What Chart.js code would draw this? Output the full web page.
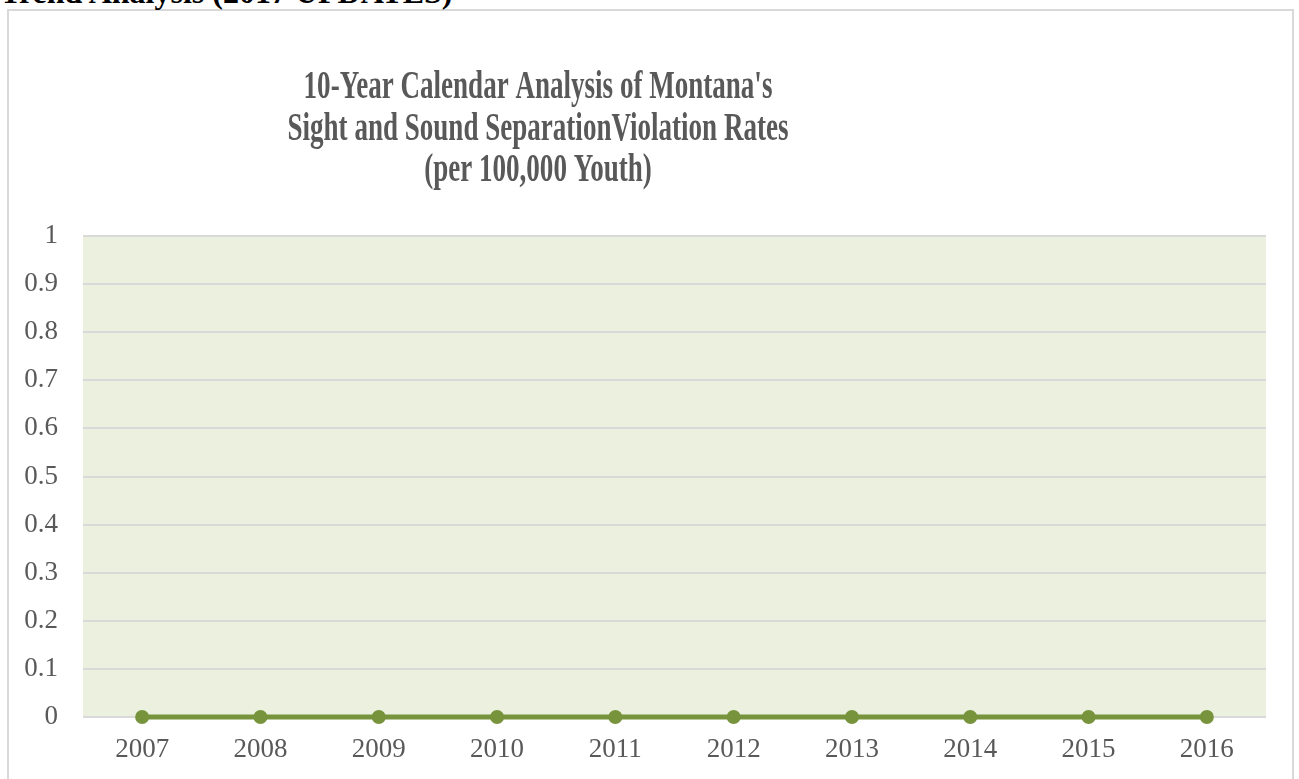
<!DOCTYPE html>
<html>
<head>
<meta charset="utf-8">
<script src="https://cdn.jsdelivr.net/npm/chart.js@4.4.1/dist/chart.umd.min.js"></script>
<style>
  body { margin: 0; background: #fff; overflow: hidden; }
  .heading {
    position: absolute; left: 0; top: -24px; z-index: 2;
    font: bold 32px 'Liberation Serif', 'Times New Roman', serif;
    line-height: 32px; color: #000; white-space: nowrap;
  }
  .frame {
    position: absolute; left: 7px; top: 9px;
    width: 1283px; height: 780px;
    border: 2px solid #d9d9d9; background: #fff;
  }
  .frame canvas { display: block; }
</style>
</head>
<body>
<div class="heading">Trend Analysis (2017 UPDATES)</div>
<div class="frame">
  <canvas id="trend-chart" width="1283" height="768"></canvas>
</div>
<script>
// chart data
var years = ['2007', '2008', '2009', '2010', '2011', '2012', '2013', '2014', '2015', '2016'];
var violationRates = [0, 0, 0, 0, 0, 0, 0, 0, 0, 0];
var yTickLabels = ['0', '0.1', '0.2', '0.3', '0.4', '0.5', '0.6', '0.7', '0.8', '0.9', '1'];
var titleLines = [
    "10-Year Calendar Analysis of Montana's",
    "Sight and Sound SeparationViolation Rates",
    "(per 100,000 Youth)"
];

var olive = '#77933c';
var gris = '#595959';
var serif = "'Liberation Serif', 'Times New Roman', serif";

// fondo del area de graficado
var plotBackground = {
    id: 'plotBackground',
    beforeDraw: function(chart) {
        var ca = chart.chartArea;
        var ctx = chart.ctx;
        ctx.save();
        ctx.fillStyle = '#ebf1de';
        ctx.fillRect(ca.left, ca.top, ca.right - ca.left, ca.bottom - ca.top);
        ctx.restore();
    }
};

// titulo en tres lineas, letra condensada como en Excel
var condensedTitle = {
    id: 'condensedTitle',
    afterDraw: function(chart) {
        var ctx = chart.ctx;
        var baselines = [87, 129, 170];
        ctx.save();
        ctx.font = 'bold 40px ' + serif;
        ctx.fillStyle = gris;
        ctx.textAlign = 'center';
        ctx.textBaseline = 'alphabetic';
        var sx = 501 / ctx.measureText(titleLines[1]).width;
        titleLines.forEach(function(line, i) {
            ctx.save();
            ctx.translate(529, baselines[i]);
            ctx.scale(sx, 1);
            ctx.fillText(line, 0, 0);
            ctx.restore();
        });
        ctx.restore();
    }
};

var ctx = document.getElementById('trend-chart').getContext('2d');
var myChart = new Chart(ctx, {
    type: 'line',
    data: {
        labels: years,
        datasets: [{
            label: 'Violation Rate',
            data: violationRates,
            borderColor: olive,
            backgroundColor: olive,
            borderWidth: 5,
            pointRadius: 7,
            pointHoverRadius: 7,
            pointBackgroundColor: olive,
            pointBorderWidth: 0,
            tension: 0,
            clip: false
        }]
    },
    options: {
        responsive: false,
        animation: false,
        layout: {
            padding: { top: 225, right: 26, bottom: 0, left: 0 }
        },
        plugins: {
            legend: { display: false },
            title: { display: false },
            tooltip: { enabled: false }
        },
        scales: {
            x: {
                offset: true,
                grid: { display: false },
                border: { display: false },
                ticks: {
                    color: gris,
                    padding: 9,
                    font: { family: serif, size: 27 }
                },
                afterFit: function(scale) { scale.height = 62; }
            },
            y: {
                min: 0,
                max: 1,
                border: { display: false },
                grid: { color: '#d9d9d9', lineWidth: 2, drawTicks: false },
                ticks: {
                    stepSize: 0.1,
                    color: gris,
                    padding: 25,
                    font: { family: serif, size: 27 },
                    callback: function(value, index) { return yTickLabels[index]; }
                },
                afterFit: function(scale) { scale.width = 74; }
            }
        }
    },
    plugins: [plotBackground, condensedTitle]
});
</script>
</body>
</html>
